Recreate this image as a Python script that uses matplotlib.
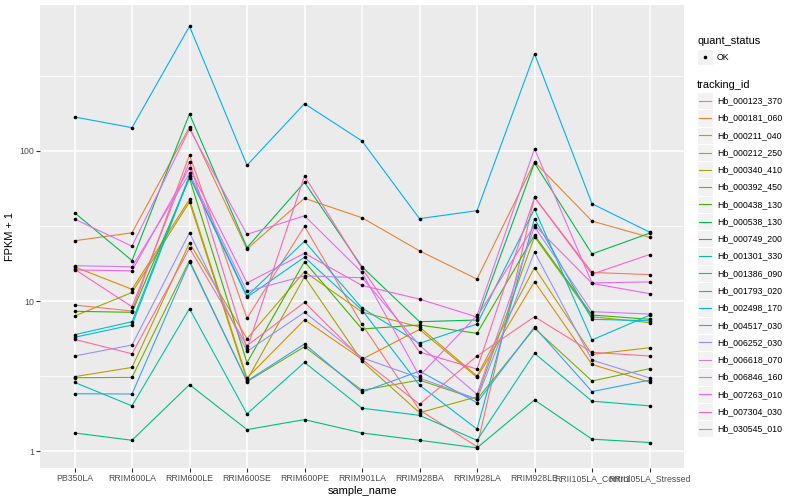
import matplotlib
matplotlib.use("Agg")
import matplotlib.pyplot as plt
from matplotlib.patches import Rectangle
from matplotlib.lines import Line2D

# Samples on the x axis
SAMPLES = ["PB350LA", "RRIM600LA", "RRIM600LE", "RRIM600SE", "RRIM600PE",
           "RRIM901LA", "RRIM928BA", "RRIM928LA", "RRIM928LE",
           "RRII105LA_Control", "RRII105LA_Stressed"]

TRACKING_IDS = ["Hb_000123_370", "Hb_000181_060", "Hb_000211_040", "Hb_000212_250",
                "Hb_000340_410", "Hb_000392_450", "Hb_000438_130", "Hb_000538_130",
                "Hb_000749_200", "Hb_001301_330", "Hb_001386_090", "Hb_001793_020",
                "Hb_002498_170", "Hb_004517_030", "Hb_006252_030", "Hb_006618_070",
                "Hb_006846_160", "Hb_007263_010", "Hb_007304_030", "Hb_030545_010"]

# FPKM + 1 per gene (one value per sample)
hb_000123_370 = [9.40, 8.58, 94.1, 7.67, 31.5, 6.99, 1.88, 1.07, 49.1, 15.5, 15.0]
hb_000181_060 = [25.2, 28.5, 144.5, 22.2, 48.4, 35.9, 21.6, 14.0, 84.5, 34.1, 26.6]
hb_000211_040 = [16.9, 11.97, 47.6, 3.07, 7.50, 4.09, 6.46, 3.10, 13.45, 3.78, 2.88]
hb_000212_250 = [3.13, 3.61, 24.4, 5.61, 15.7, 8.44, 6.71, 3.16, 16.7, 4.41, 4.88]
hb_000340_410 = [7.94, 11.4, 45.7, 2.97, 14.5, 3.98, 1.80, 2.30, 26.8, 7.86, 7.17]
hb_000392_450 = [3.08, 3.10, 18.6, 2.90, 4.96, 2.54, 2.97, 2.21, 6.58, 2.93, 3.54]
hb_000438_130 = [8.54, 8.41, 65.8, 3.88, 18.3, 6.51, 6.92, 6.09, 27.5, 8.07, 7.55]
hb_000538_130 = [38.8, 18.6, 176.5, 22.7, 61.8, 16.9, 7.28, 7.47, 83.2, 20.6, 28.3]
hb_000749_200 = [1.32, 1.18, 2.77, 1.39, 1.62, 1.32, 1.18, 1.05, 2.19, 1.20, 1.14]
hb_001301_330 = [2.87, 2.00, 8.89, 1.77, 3.90, 1.93, 1.73, 1.18, 4.48, 2.15, 2.00]
hb_001386_090 = [5.96, 7.28, 68.5, 10.8, 25.0, 8.98, 5.22, 7.02, 41.1, 5.50, 8.03]
hb_001793_020 = [5.73, 6.92, 67.6, 10.6, 19.6, 8.71, 2.75, 1.40, 35.4, 7.55, 7.39]
hb_002498_170 = [168.5, 143.0, 678.0, 80.3, 206.7, 116.6, 35.4, 40.0, 445.0, 44.5, 28.8]
hb_004517_030 = [2.41, 2.40, 18.2, 2.93, 5.17, 2.47, 3.41, 2.10, 6.71, 2.49, 2.97]
hb_006252_030 = [4.30, 5.09, 28.5, 4.62, 8.41, 4.19, 3.07, 2.22, 21.2, 4.04, 3.07]
hb_006618_070 = [17.2, 16.9, 71.0, 11.6, 14.7, 14.3, 5.07, 2.39, 31.3, 8.49, 8.19]
hb_006846_160 = [35.2, 23.2, 140.0, 27.8, 37.0, 15.5, 3.16, 8.03, 103.6, 13.2, 13.4]
hb_007263_010 = [16.1, 15.9, 77.4, 13.2, 20.8, 12.7, 10.3, 7.82, 32.0, 13.1, 11.2]
hb_007304_030 = [16.3, 9.16, 84.9, 4.79, 68.1, 16.5, 4.57, 3.52, 49.1, 15.1, 20.4]
hb_030545_010 = [5.55, 4.45, 22.5, 5.04, 9.80, 4.09, 2.05, 4.30, 7.86, 4.55, 4.30]

SERIES = [hb_000123_370, hb_000181_060, hb_000211_040, hb_000212_250, hb_000340_410,
          hb_000392_450, hb_000438_130, hb_000538_130, hb_000749_200, hb_001301_330,
          hb_001386_090, hb_001793_020, hb_002498_170, hb_004517_030, hb_006252_030,
          hb_006618_070, hb_006846_160, hb_007263_010, hb_007304_030, hb_030545_010]

# ggplot2 default hue palette for 20 levels
COLORS = ["#F8766D", "#EA8331", "#D89000", "#C09B00", "#A3A500", "#7CAE00", "#39B600",
          "#00BB4E", "#00BF7D", "#00C1A3", "#00BFC4", "#00BAE0", "#00B0F6", "#35A2FF",
          "#9590FF", "#C77CFF", "#E76BF3", "#FA62DB", "#FF62BC", "#FF6C91"]

plt.rcParams["font.family"] = ["Liberation Sans", "DejaVu Sans"]

W, H = 800, 500
fig = plt.figure(figsize=(W / 100, H / 100), dpi=100)

# panel in pixels: x 40..684, y 5..468
ax = fig.add_axes([40 / W, 1 - 468 / H, 644 / W, 463 / H])
ax.set_facecolor("#EBEBEB")
for s in ax.spines.values():
    s.set_visible(False)

x = list(range(len(SAMPLES)))
for vals, col in zip(SERIES, COLORS):
    ax.plot(x, vals, color=col, lw=0.8, zorder=3, solid_capstyle="butt")
for vals in SERIES:
    ax.plot(x, vals, ls="none", marker="o", ms=2.6, mfc="black", mec="black",
            mew=0, zorder=4)

ax.set_yscale("log")
ax.set_ylim(10 ** -0.113, 10 ** 2.973)
ax.set_xlim(-0.6, len(SAMPLES) - 1 + 0.6)

ax.set_yticks([1, 10, 100])
ax.set_yticklabels(["1", "10", "100"])
ax.set_yticks([10 ** 0.5, 10 ** 1.5, 10 ** 2.5], minor=True)
ax.yaxis.set_minor_formatter(plt.NullFormatter())
ax.set_xticks(x)
ax.set_xticklabels(SAMPLES)

ax.grid(True, which="major", color="white", lw=1.1, zorder=1)
ax.grid(True, which="minor", axis="y", color="white", lw=0.55, zorder=1)
ax.set_axisbelow(True)

ax.tick_params(which="major", length=2.7, width=0.8, color="#333333",
               labelcolor="#4D4D4D", labelsize=6.3, pad=1.5)
ax.tick_params(which="minor", length=0)

ax.set_xlabel("sample_name", fontsize=7.9, color="black", labelpad=2)
ax.set_ylabel("FPKM + 1", fontsize=7.9, color="black", labelpad=3)

# legend drawn by hand in pixel space
def fy(py):
    return 1 - py / H

def fx(px):
    return px / W

fig.text(fx(697), fy(41), "quant_status", fontsize=7.9, va="center", ha="left")
fig.add_artist(Rectangle((fx(697), fy(65)), 16 / W, 16 / H, transform=fig.transFigure,
                         facecolor="#F2F2F2", edgecolor="white", lw=0.8))
fig.add_artist(Line2D([fx(705)], [fy(57)], transform=fig.transFigure, marker="o",
                      ms=2.6, mfc="black", mec="black", mew=0, ls="none"))
fig.text(fx(717), fy(57), "OK", fontsize=6.3, va="center", ha="left")

fig.text(fx(697), fy(84.5), "tracking_id", fontsize=7.9, va="center", ha="left")
step = 17.27
for i, (tid, col) in enumerate(zip(TRACKING_IDS, COLORS)):
    cy = 100.7 + i * step
    fig.add_artist(Rectangle((fx(697), fy(cy + step / 2)), 16 / W, step / H,
                             transform=fig.transFigure, facecolor="#F2F2F2",
                             edgecolor="white", lw=0.8))
    fig.add_artist(Line2D([fx(699), fx(711)], [fy(cy), fy(cy)],
                          transform=fig.transFigure, color=col, lw=0.8))
    fig.text(fx(717), fy(cy), tid, fontsize=6.3, va="center", ha="left")

fig.savefig("out.png", dpi=100, facecolor="white")
